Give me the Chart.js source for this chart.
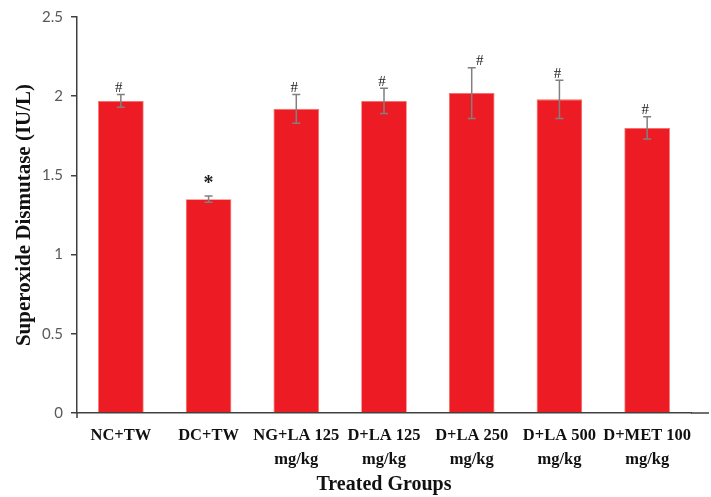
<!DOCTYPE html>
<html>
<head>
<meta charset="utf-8">
<script src="https://cdn.jsdelivr.net/npm/chart.js@4.4.1/dist/chart.umd.min.js"></script>
<style>
  html, body { margin: 0; padding: 0; background: #fff; }
  #wrap { width: 711px; height: 497px; }
</style>
</head>
<body>
<div id="wrap"><canvas id="sodChart" width="711" height="497"></canvas></div>
<script>
const groups = [
    'NC+TW',
    'DC+TW',
    ['NG+LA 125', 'mg/kg'],
    ['D+LA 125', 'mg/kg'],
    ['D+LA 250', 'mg/kg'],
    ['D+LA 500', 'mg/kg'],
    ['D+MET 100', 'mg/kg']
];
const sodMeans = [1.97, 1.35, 1.92, 1.97, 2.02, 1.98, 1.80];
const sodErrors = [0.04, 0.02, 0.09, 0.08, 0.16, 0.12, 0.07];
const markers = ['#', '*', '#', '#', '#', '#', '#'];
const yTicks = [0, 0.5, 1, 1.5, 2, 2.5];

// error bars + significance marks
const errorBarPlugin = {
    id: 'errorBars',
    afterDatasetsDraw(chart) {
        const ctx = chart.ctx;
        const y = chart.scales.y;
        const meta = chart.getDatasetMeta(0);
        ctx.save();
        ctx.strokeStyle = '#808080';
        ctx.lineWidth = 1.5;
        meta.data.forEach((bar, i) => {
            const cx = bar.x;
            const top = y.getPixelForValue(sodMeans[i] + sodErrors[i]);
            const bot = y.getPixelForValue(sodMeans[i] - sodErrors[i]);
            ctx.beginPath();
            ctx.moveTo(cx, top); ctx.lineTo(cx, bot);
            ctx.moveTo(cx - 4, top); ctx.lineTo(cx + 4, top);
            ctx.moveTo(cx - 4, bot); ctx.lineTo(cx + 4, bot);
            ctx.stroke();

            ctx.fillStyle = '#222';
            ctx.textAlign = 'center';
            ctx.textBaseline = 'bottom';
            if (markers[i] === '*') {
                ctx.font = 'bold 20px "Liberation Serif"';
                ctx.fillText('*', cx, top - 2);
            } else {
                ctx.font = '15px "Liberation Serif"';
                // the 250 mark sits off to the right in the original
                const dx = i === 4 ? 8 : -2;
                ctx.fillText('#', cx + dx, top + 1);
            }
        });
        // x axis line runs on past the last category
        ctx.strokeStyle = '#404040';
        ctx.lineWidth = 1.5;
        ctx.beginPath();
        ctx.moveTo(chart.chartArea.right, y.bottom);
        ctx.lineTo(709, y.bottom);
        // small tick below the origin
        ctx.moveTo(y.right, y.bottom);
        ctx.lineTo(y.right, y.bottom + 5);
        ctx.stroke();
        ctx.restore();
    }
};

new Chart(document.getElementById('sodChart'), {
    type: 'bar',
    data: {
        labels: groups,
        datasets: [{
            label: 'Superoxide Dismutase',
            data: sodMeans,
            backgroundColor: '#ed1c24',
            borderColor: '#f26b60',
            borderWidth: 0.8,
            barPercentage: 0.52,
            categoryPercentage: 1
        }]
    },
    options: {
        responsive: false,
        animation: false,
        layout: { padding: { top: 16, right: 20, left: 0, bottom: 0 } },
        plugins: {
            legend: { display: false },
            tooltip: { enabled: false }
        },
        scales: {
            x: {
                grid: { display: false },
                border: { display: true, color: '#404040', width: 1.5 },
                ticks: {
                    color: '#111',
                    font: { family: '"Liberation Serif"', size: 16.5, weight: 'bold', lineHeight: 1.45 },
                    maxRotation: 0,
                    autoSkip: false,
                    padding: 3
                },
                title: {
                    display: true,
                    text: 'Treated Groups',
                    color: '#111',
                    font: { family: '"Liberation Serif"', size: 20, weight: 'bold' },
                    padding: { top: 0, bottom: 0 }
                },
                afterFit(scale) { scale.height = 84; }
            },
            y: {
                min: 0,
                max: 2.5,
                afterBuildTicks(scale) { scale.ticks = yTicks.map(v => ({ value: v })); },
                grid: { display: true, drawOnChartArea: false, drawTicks: true, tickLength: 6, color: '#404040', lineWidth: 1.5 },
                border: { display: true, color: '#404040', width: 1.5 },
                ticks: {
                    color: '#595959',
                    font: { family: 'Lato', size: 15 },
                    padding: 8,
                    callback: v => String(v)
                },
                title: {
                    display: true,
                    text: 'Superoxide Dismutase (IU/L)',
                    color: '#111',
                    font: { family: '"Liberation Serif"', size: 21, weight: 'bold' },
                    padding: { top: 12, bottom: 0 }
                },
                afterFit(scale) { scale.width = 77; }
            }
        }
    },
    plugins: [errorBarPlugin]
});
</script>
</body>
</html>
